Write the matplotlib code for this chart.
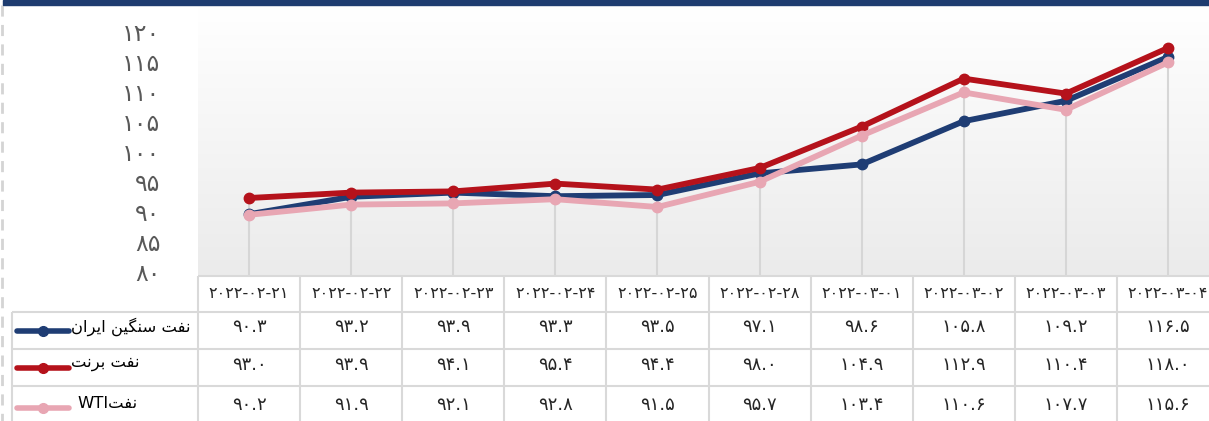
import numpy as np
import matplotlib
matplotlib.use("Agg")
import matplotlib.pyplot as plt
from matplotlib.colors import LinearSegmentedColormap
from matplotlib.patches import Rectangle
from matplotlib.transforms import ScaledTranslation

# Data
dates = ["2022-02-21", "2022-02-22", "2022-02-23", "2022-02-24", "2022-02-25",
         "2022-02-28", "2022-03-01", "2022-03-02", "2022-03-03", "2022-03-04"]
iran_heavy = [90.3, 93.2, 93.9, 93.3, 93.5, 97.1, 98.6, 105.8, 109.2, 116.5]
brent = [93.0, 93.9, 94.1, 95.4, 94.4, 98.0, 104.9, 112.9, 110.4, 118.0]
wti = [90.2, 91.9, 92.1, 92.8, 91.5, 95.7, 103.4, 110.6, 107.7, 115.6]
series_names = ["نفت سنگین ایران", "نفت برنت", "نفت"]
y_ticks = [80, 85, 90, 95, 100, 105, 110, 115, 120]

colors = ["#1f3d74", "#b5121b", "#e8a6b3"]

# Persian digits
FA_DIGITS = str.maketrans("0123456789", "۰۱۲۳۴۵۶۷۸۹")

def fa(s):
    return str(s).translate(FA_DIGITS)

# simple Arabic-script shaping (isolated, final, initial, medial)
FORMS = {
    "ا": (0xFE8D, 0xFE8E, None, None),
    "ب": (0xFE8F, 0xFE90, 0xFE91, 0xFE92),
    "ت": (0xFE95, 0xFE96, 0xFE97, 0xFE98),
    "ر": (0xFEAD, 0xFEAE, None, None),
    "س": (0xFEB1, 0xFEB2, 0xFEB3, 0xFEB4),
    "ف": (0xFED1, 0xFED2, 0xFED3, 0xFED4),
    "ن": (0xFEE5, 0xFEE6, 0xFEE7, 0xFEE8),
    "گ": (0xFB92, 0xFB93, 0xFB94, 0xFB95),
    "ی": (0xFBFC, 0xFBFD, 0xFBFE, 0xFBFF),
}

def rtl(text):
    out = []
    for i, ch in enumerate(text):
        if ch not in FORMS:
            out.append(ch)
            continue
        prev = text[i - 1] if i > 0 else ""
        nxt = text[i + 1] if i + 1 < len(text) else ""
        iso, fin, ini, med = FORMS[ch]
        jp = prev in FORMS and FORMS[prev][2] is not None
        jn = ini is not None and nxt in FORMS
        if jp and jn:
            c = med
        elif jp:
            c = fin
        elif jn:
            c = ini
        else:
            c = iso
        out.append(chr(c))
    return "".join(out)[::-1]

labels = [rtl(series_names[0]), rtl(series_names[1]), "WTI" + rtl(series_names[2])]

W, H = 1209, 421
fig = plt.figure(figsize=(W / 100, H / 100), dpi=100)
plt.rcParams["font.family"] = ["DejaVu Sans"]

# chart area
col0, colw = 198, 102.1
ax = fig.add_axes([col0 / W, (H - 276) / H, (W - col0) / W, (276 - 6) / H])
x = np.arange(len(dates))
ax.set_xlim(-0.5, -0.5 + (W - col0) / colw)
ax.set_ylim(80, 125)

grad = LinearSegmentedColormap.from_list("bg", ["#ffffff", "#ebebeb"])
ax.imshow(np.linspace(0, 1, 100).reshape(-1, 1), extent=[-0.5, 10, 80, 125],
          cmap=grad, aspect="auto", origin="upper", zorder=0)

tops = np.max([iran_heavy, brent, wti], axis=0)
ax.vlines(x, 80, tops, color="#d6d6d6", lw=1.5, zorder=1)

for vals, c in zip([iran_heavy, brent, wti], colors):
    ax.plot(x, vals, color=c, lw=4.2, marker="o", markersize=7.5, zorder=3,
            solid_capstyle="round")

ax.set_yticks(y_ticks)
ax.set_yticklabels([fa(t) for t in y_ticks], fontsize=17, color="#595959")
ax.tick_params(axis="y", length=0, pad=27)
shift = ScaledTranslation(0, 5 / 100, fig.dpi_scale_trans)
for lbl in ax.get_yticklabels():
    lbl.set_transform(lbl.get_transform() + shift)
ax.set_xticks([])
for s in ax.spines.values():
    s.set_visible(False)

# table
tab = fig.add_axes([0, 0, 1, 1])
tab.set_xlim(0, W)
tab.set_ylim(H, 0)
tab.axis("off")
rows = [276, 312, 349, 386, 430]
gc = "#d9d9d9"
ncol = len(dates)
right = col0 + colw * ncol
tab.hlines(rows[0], col0, right, color=gc, lw=1.5)
tab.hlines(rows[1:4], 12, right, color=gc, lw=1.5)
tab.vlines([col0 + colw * i for i in range(ncol + 1)], rows[0], rows[-1], color=gc, lw=1.5)
tab.vlines(12, rows[1], rows[-1], color=gc, lw=1.5)

for i, d in enumerate(dates):
    cx = col0 + colw * (i + 0.5)
    tab.text(cx, (rows[0] + rows[1]) / 2 - 1, fa(d), ha="center", va="center",
             fontsize=11.5, color="#262626")
    for r, vals in enumerate([iran_heavy, brent, wti]):
        tab.text(cx, (rows[r + 1] + rows[r + 2]) / 2 - 3, fa(f"{vals[i]:.1f}"),
                 ha="center", va="center", fontsize=13, color="#262626")

for r, (lab, c) in enumerate(zip(labels, colors)):
    cy = (rows[r + 1] + rows[r + 2]) / 2
    tab.plot([17, 69], [cy, cy], color=c, lw=4, solid_capstyle="round")
    tab.plot([43], [cy], marker="o", color=c, markersize=7)
    tab.text(71 if r < 2 else 77, cy - 4, lab, ha="left", va="center",
             fontsize=11.8, color="#000000")

# top bar and left edge
fig.patches.append(Rectangle((3 / W, 1 - 5 / H), 1, 5 / H, transform=fig.transFigure,
                             color="#1e3c70", zorder=5))
tab.vlines(1.5, 5, H, color="#d4d4d4", lw=2, linestyles=(0, (4, 3)))

fig.savefig("out.png", dpi=100)
